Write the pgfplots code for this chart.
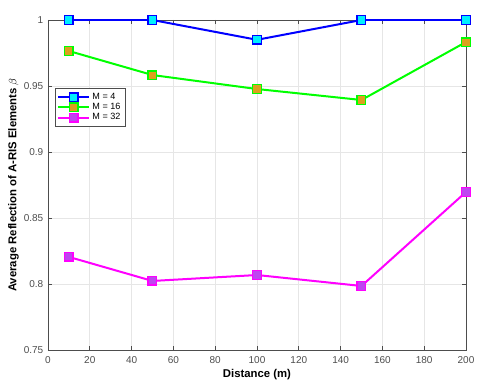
\documentclass[border=0pt]{standalone}
\usepackage{pgfplots}
\pgfplotsset{compat=1.18}
\usepackage{fontspec}
\setmainfont{Liberation Sans}
\definecolor{tickgray}{RGB}{77,77,77}
\definecolor{gridgray}{RGB}{230,230,230}
\definecolor{lineblue}{RGB}{0,0,255}
\definecolor{linegreen}{RGB}{0,255,0}
\definecolor{linemagenta}{RGB}{255,0,255}
\definecolor{fillcyan}{RGB}{0,240,255}
\definecolor{fillorange}{RGB}{220,160,30}
\definecolor{fillpurple}{RGB}{190,70,240}
\begin{document}
\begin{tikzpicture}
\useasboundingbox (-36pt,-31.5pt) rectangle (329.25pt,262.5pt);
\begin{axis}[
  at={(0,0)}, anchor=south west,
  scale only axis,
  width=313.5pt, height=247.5pt,
  xmin=0, xmax=200, ymin=0.75, ymax=1,
  xtick={0,20,...,200},
  ytick={0.75,0.8,0.85,0.9,0.95,1},
  yticklabels={0.75,0.8,0.85,0.9,0.95,1},
  /pgf/number format/assume math mode=true,
  tick label style={font=\fontsize{7.5}{9}\selectfont, text=tickgray},
  xticklabel style={yshift=-1pt},
  xlabel={\textbf{Distance (m)}},
  ylabel={\textbf{Average Reflection of A-RIS Elements} $\beta$},
  label style={font=\fontsize{8.5}{10}\selectfont},
  xlabel style={yshift=2pt},
  ylabel style={yshift=-3pt},
  grid=major,
  major grid style={gridgray, line width=0.5pt},
  axis line style={tickgray, line width=0.6pt},
  major tick length=3pt,
  tick style={tickgray, line width=0.6pt},
  tick align=inside,
  legend style={at={(0.017,0.794)}, anchor=north west, font=\fontsize{6.8}{8}\selectfont,
    draw=tickgray, line width=0.5pt, row sep=-2.5pt, inner sep=1.5pt},
  legend cell align=left,
  legend image code/.code={
    \draw[mark repeat=2, mark phase=2] plot coordinates {(0cm,0cm) (0.4cm,0cm) (0.8cm,0cm)};
  },
]
\addplot[lineblue, line width=1.5pt, mark=square*, mark size=3.2pt, mark options={fill=fillcyan, draw=lineblue, line width=1.1pt}]
  coordinates {(10,1) (50,1) (100,0.985) (150,1) (200,1)};
\addlegendentry{M = 4}
\addplot[linegreen, line width=1.5pt, mark=square*, mark size=3.2pt, mark options={fill=fillorange, draw=linegreen, line width=1.1pt}]
  coordinates {(10,0.9765) (50,0.9583) (100,0.9477) (150,0.9394) (200,0.9833)};
\addlegendentry{M = 16}
\addplot[linemagenta, line width=1.5pt, mark=square*, mark size=3.2pt, mark options={fill=fillpurple, draw=linemagenta, line width=1.1pt}]
  coordinates {(10,0.8205) (50,0.8023) (100,0.8068) (150,0.7985) (200,0.8697)};
\addlegendentry{M = 32}
\end{axis}
\end{tikzpicture}
\end{document}
